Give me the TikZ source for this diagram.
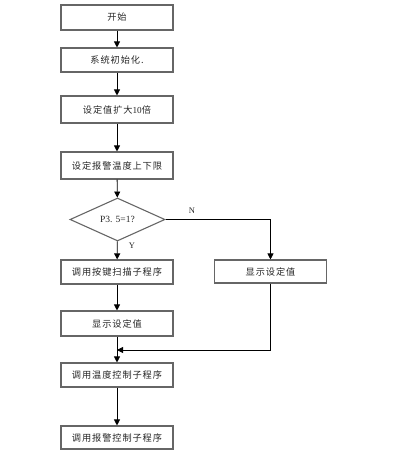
\documentclass[tikz,border=0pt]{standalone}
\usepackage{fontspec}
\setmainfont{Liberation Serif}
\newfontfamily\cjk[LetterSpace=10]{Noto Sans CJK SC}
\usetikzlibrary{arrows.meta,shapes.geometric}
\tikzset{
  box/.style={draw=black!60, line width=1.1pt, rectangle, minimum width=112pt, inner sep=0pt, text=black!85, font=\fontsize{9.2}{10}\selectfont},
  dia/.style={draw=black!60, line width=1.1pt, diamond, aspect=2.2, minimum width=95pt, minimum height=43pt, inner sep=0pt, text=black!85, font=\fontsize{9.5}{10}\selectfont},
  arr/.style={draw=black, line width=0.8pt, -{Triangle[length=6pt,width=6pt]}},
  lab/.style={font=\fontsize{8.5}{9}\selectfont, inner sep=0pt, text=black!85}
}
\begin{document}
\begin{tikzpicture}[x=1pt,y=-1pt]
\useasboundingbox (0,0) rectangle (408,451);
\node[box, minimum height=25pt] (b1) at (117,17.5) {\cjk 开始};
\node[box, minimum height=24pt] (b2) at (117,60) {\cjk 系统初始化.};
\node[box, minimum height=27pt] (b3) at (117,109.5) {{\cjk 设定值扩大}10{\cjk 倍}};
\node[box, minimum height=27pt] (b4) at (117,165.5) {\cjk 设定报警温度上下限};
\node[dia] (d) at (117.5,219.5) {P3. 5=1?};
\node[box, minimum height=24pt] (b5) at (117,272) {\cjk 调用按键扫描子程序};
\node[box, minimum height=25pt] (b6) at (117,323.5) {\cjk 显示设定值};
\node[box, minimum height=23pt] (r) at (270.5,271.5) {\cjk 显示设定值};
\node[box, minimum height=24pt] (b7) at (117,375) {\cjk 调用温度控制子程序};
\node[box, minimum height=23pt] (b8) at (117,437.5) {\cjk 调用报警控制子程序};
\coordinate (j) at (117,350);
\node[lab] (nlab) at (192,211) {N};
\node[lab] (ylab) at (132,246) {Y};
\draw[arr] (b1) -- (b2);
\draw[arr] (b2) -- (b3);
\draw[arr] (b3) -- (b4);
\draw[arr] (b4) -- (d);
\draw[arr] (d) -- (b5);
\draw[arr] (d.east) -| (r.north);
\draw[arr] (b5) -- (b6);
\draw[arr] (b6) -- (b7);
\draw[arr] (r.south) |- (j);
\draw[arr] (b7) -- (b8);
\end{tikzpicture}
\end{document}
